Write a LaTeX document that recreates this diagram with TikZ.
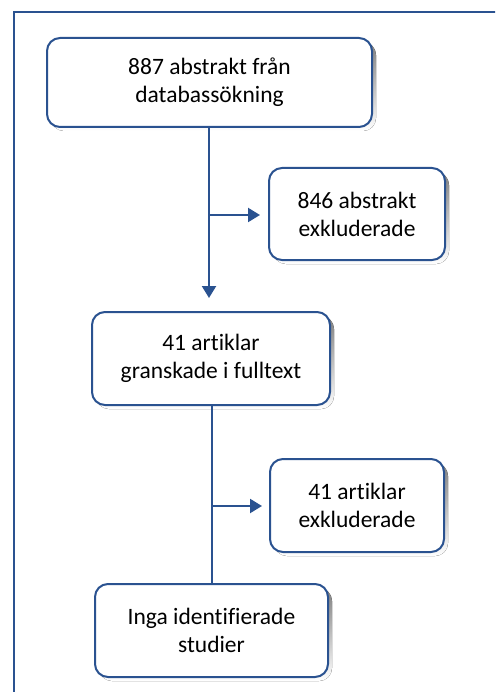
\documentclass[tikz,border=0pt]{standalone}
\usepackage{fontspec}
\setmainfont{Carlito}[Ligatures={NoCommon}]
\usetikzlibrary{arrows.meta}
\definecolor{frame}{HTML}{2A5290}
\definecolor{shade}{HTML}{C6D9F1}
\tikzset{
  flowbox/.style={draw=frame, line width=2pt, rounded corners=13pt, fill=white, align=center,
    font=\fontsize{23.5}{28}\selectfont, inner sep=0pt},
  conn/.style={draw=frame, line width=2.2pt},
  arr/.style={conn, -{Triangle[length=12pt,width=14pt]}}
}
\newcommand{\flowbx}[6]{% name, x1, y1, x2, y2, text
  \fill[shade, rounded corners=13pt] (#2+4,-#3-4) rectangle (#4+4,-#5-4);
  \node[flowbox, minimum width=#4-#2, minimum height=#5-#3] (#1) at ({(#2+#4)/2},{-(#3+#5)/2}) {#6};
}
\begin{document}
\begin{tikzpicture}[x=1pt,y=1pt]
\useasboundingbox (0,0) rectangle (495,-692);
\begin{scope}
\clip (0,0) rectangle (495,-692);
\draw[frame, line width=2.6pt] (14,-700) -- (14,-12) -- (505,-12);
\end{scope}
\flowbx{a}{47}{38}{372}{127}{887 abstrakt från\\databassökning}
\flowbx{b}{269}{168}{445}{260}{846 abstrakt\\exkluderade}
\flowbx{c}{92}{312}{330}{405}{41 artiklar\\granskade i fulltext}
\flowbx{d}{270}{459}{444}{552}{41 artiklar\\exkluderade}
\flowbx{e}{95}{584}{328}{677}{Inga identifierade\\studier}
\coordinate (j1) at (209,-215);
\coordinate (j2) at (212,-506);
\draw[arr, shorten >=13pt] (a.south -| j1) -- (c.north -| j1);
\draw[arr, shorten >=8pt] (j1) -- (b.west |- j1);
\draw[conn] (c.south -| j2) -- (e.north -| j2);
\draw[arr, shorten >=7pt] (j2) -- (d.west |- j2);
\end{tikzpicture}
\end{document}
